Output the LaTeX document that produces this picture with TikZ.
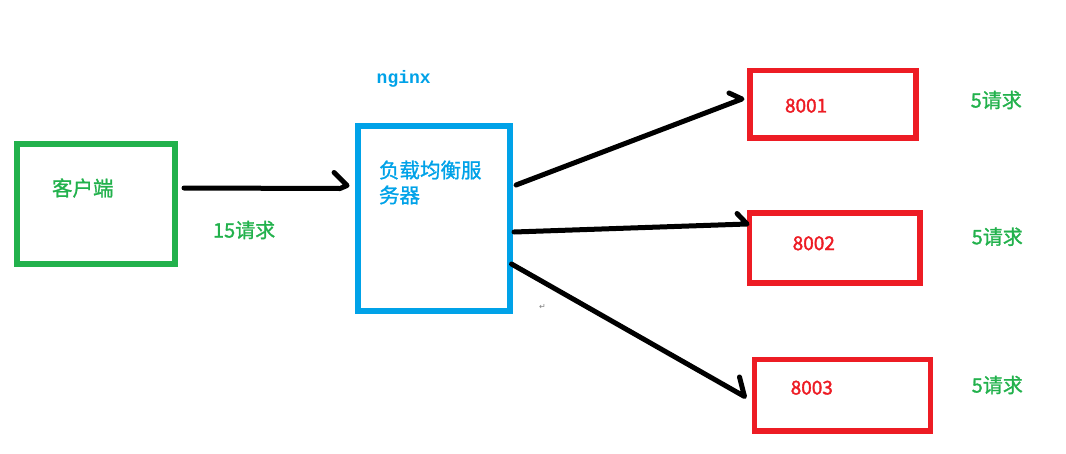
\documentclass[tikz,border=0pt]{standalone}
\usepackage{fontspec}
\newfontfamily\cjk[FakeBold=1.2]{Noto Sans CJK SC}
\newfontfamily\cjkdig[FakeBold=1.8]{Noto Sans CJK SC}
\newfontfamily\monob{Liberation Mono}
\newfontfamily\symf{DejaVu Sans}
\definecolor{pgreen}{HTML}{22B14C}
\definecolor{pblue}{HTML}{00A2E8}
\definecolor{pred}{HTML}{ED1C24}
\tikzset{
  boxbase/.style={draw, inner sep=0pt, outer sep=0pt, fill=none},
  gbox/.style={boxbase, draw=pgreen, line width=6pt},
  bbox/.style={boxbase, draw=pblue, line width=5.7pt},
  rbox/.style={boxbase, draw=pred, line width=5.7pt},
  lbl/.style={anchor=west, inner sep=0pt, outer sep=0pt},
  cjktext/.style={lbl, font=\cjk\fontsize{20.5}{25}\selectfont},
  gtext/.style={cjktext, text=pgreen},
  btext/.style={cjktext, text=pblue},
  rtext/.style={lbl, font=\cjkdig\fontsize{19}{23}\selectfont, text=pred},
  arr/.style={draw=black, line width=5pt, line cap=round, line join=round}
}
\begin{document}
\begin{tikzpicture}[x=1pt,y=-1pt]
\useasboundingbox (0,0) rectangle (1066,453);
% boxes
\node[gbox, minimum width=158pt, minimum height=120pt] (client) at (96,203.7) {};
\node[bbox, minimum width=151.7pt, minimum height=185.3pt] (lb) at (433.9,218.3) {};
\node[rbox, minimum width=166pt, minimum height=67.5pt] (s1) at (833.3,104.3) {};
\node[rbox, minimum width=170.3pt, minimum height=70pt] (s2) at (834.7,247.8) {};
\node[rbox, minimum width=176pt, minimum height=71.5pt] (s3) at (842.5,395.3) {};
% texts
\node[gtext] (tclient) at (52,188) {客户端};
\node[gtext, font=\cjk\fontsize{20}{25}\selectfont] (t15) at (213,230) {15请求};
\node[lbl, font=\monob\bfseries\fontsize{18}{20}\selectfont, text=pblue] (tnginx) at (376.7,79.3) {nginx};
\node[btext, align=left] (tlb) at (379,182.5) {负载均衡服\\务器};
\node[rtext] (t1) at (785,105.7) {8001};
\node[rtext] (t2) at (792.7,243.3) {8002};
\node[rtext] (t3) at (790.7,387.7) {8003};
\node[gtext, font=\cjk\fontsize{20}{25}\selectfont] (r1) at (970.7,100) {5请求};
\node[gtext, font=\cjk\fontsize{20}{25}\selectfont] (r2) at (971.7,236.7) {5请求};
\node[gtext, font=\cjk\fontsize{20}{25}\selectfont] (r3) at (971.7,385) {5请求};
\node[lbl, font=\symf\fontsize{8}{9}\selectfont, text=gray] (para) at (539,306.7) {↵};
% arrow client -> lb
\coordinate (a0s) at ([shift={(9,-15.7)}]client.east);
\coordinate (a0t) at ([shift={(-11,-32.8)}]lb.west);
\draw[arr] (a0s) -- ([shift={(-7,3)}]a0t) -- (a0t) -- ([shift={(-13,-13)}]a0t);
% arrow lb -> s1
\coordinate (a1s) at ([shift={(6.3,-33.3)}]lb.east);
\coordinate (a1t) at ([shift={(-8.3,-5.3)}]s1.west);
\draw[arr] (a1s) -- (a1t) -- ([shift={(-13,-6)}]a1t);
% arrow lb -> s2
\coordinate (a2s) at ([shift={(4.3,13.7)}]lb.east);
\coordinate (a2t) at ([shift={(-2.5,-23.8)}]s2.west);
\draw[arr] (a2s) -- (a2t) -- ([shift={(-10,-10.5)}]a2t);
% arrow lb -> s3
\coordinate (a3s) at ([shift={(1.8,45.7)}]lb.east);
\coordinate (a3t) at ([shift={(-10,1.2)}]s3.west);
\draw[arr] (a3s) -- (a3t) -- ([shift={(-5,-19.5)}]a3t);
\end{tikzpicture}
\end{document}
